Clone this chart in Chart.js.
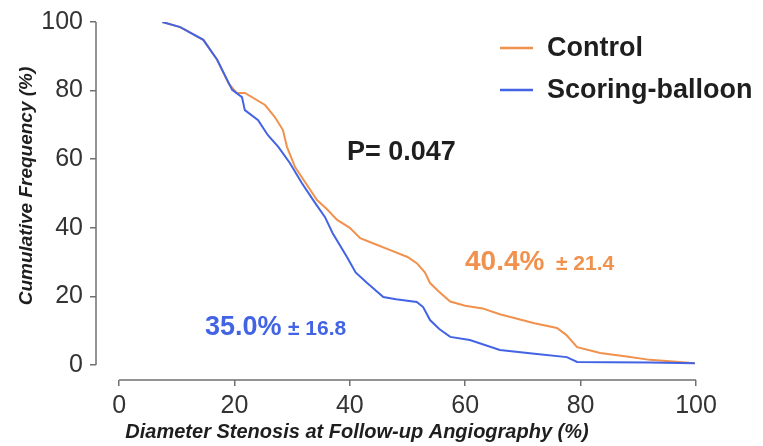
<!DOCTYPE html>
<html>
<head>
<meta charset="utf-8">
<title>Cumulative frequency of diameter stenosis</title>
<script src="https://cdn.jsdelivr.net/npm/chart.js@4.4.1/dist/chart.umd.min.js"></script>
<style>
  html, body { margin: 0; padding: 0; background: #fff; }
  #wrap { width: 763px; height: 446px; position: relative; }
</style>
</head>
<body>
<div id="wrap"><canvas id="cdf-chart"></canvas></div>
<script>
  'use strict';

  // Diameter stenosis (%) and cumulative frequency (%) for each arm.
  const controlStenosis = [7.5, 10.6, 14.6, 17, 19, 20.4, 21.8, 25.3, 27, 28.4, 29.1, 30.5, 32.8, 34.3, 36, 37.8, 40, 41.8, 44, 47, 50, 51.6, 53, 53.9, 55.5, 57.4, 60, 63, 66, 69, 72, 75.9, 77.5, 79.4, 83.4, 88, 92, 96, 99.8];
  const controlFreq = [100, 98.5, 94.8, 89, 82, 79.3, 79.3, 75.8, 72.3, 68.5, 63.6, 57.7, 51.9, 48.1, 45.5, 42.3, 40, 37, 35.5, 33.5, 31.5, 29.7, 27, 23.9, 21.3, 18.5, 17.3, 16.5, 14.8, 13.5, 12.2, 10.8, 8.8, 5.2, 3.5, 2.5, 1.5, 1, 0.5];

  const balloonStenosis = [7.5, 10.6, 14.6, 17, 19.6, 21.3, 21.8, 24.1, 25.8, 27.6, 29.6, 31.7, 34, 35.7, 37, 39.5, 41, 43, 45.8, 48, 51.6, 52.7, 53.9, 55.5, 57.4, 60.8, 66, 72, 77.6, 79.4, 85, 92, 99.8];
  const balloonFreq = [100, 98.5, 94.8, 89, 80.2, 78.1, 74.3, 71.4, 67, 63.6, 58.9, 53, 47.2, 43.1, 38.5, 31.5, 27, 23.9, 19.8, 19.2, 18.4, 16.9, 13.1, 10.5, 8.2, 7.3, 4.4, 3.3, 2.3, 0.9, 0.8, 0.7, 0.5];

  const axisTicks = [0, 20, 40, 60, 80, 100];

  const seriesLabels = ['Control', 'Scoring-balloon'];
  const meanLabels = ['40.4%', '35.0%'];
  const sdLabels = ['\u00b1 21.4', '\u00b1 16.8'];
  const pValueLabel = 'P= 0.047';

  const colors = {
    control: '#F0914E',
    balloon: '#4264E4',
    axis: '#707070',
    tick: '#333333',
    text: '#1e1e1e'
  };

  const FONT = '"Liberation Sans", Arial, Helvetica, sans-serif';

  function toPoints(xs, ys) {
    return xs.map((x, i) => ({ x: x, y: ys[i] }));
  }

  // Axis lines, legend and annotations drawn on top of the plot.
  const decorations = {
    id: 'decorations',
    afterDraw(chart) {
      const ctx = chart.ctx;
      const xs = chart.scales.x;
      const ys = chart.scales.y;
      const area = chart.chartArea;

      ctx.save();

      // Offset axis lines, each spanning 0-100 only.
      ctx.strokeStyle = colors.axis;
      ctx.lineWidth = 1.5;
      ctx.beginPath();
      ctx.moveTo(area.left, ys.getPixelForValue(100));
      ctx.lineTo(area.left, ys.getPixelForValue(0));
      ctx.moveTo(xs.getPixelForValue(0), area.bottom);
      ctx.lineTo(xs.getPixelForValue(100), area.bottom);
      ctx.stroke();

      // Legend.
      const legendRows = [
        { label: seriesLabels[0], color: colors.control, y: 48 },
        { label: seriesLabels[1], color: colors.balloon, y: 90 }
      ];
      ctx.textBaseline = 'middle';
      ctx.textAlign = 'left';
      legendRows.forEach((row) => {
        ctx.strokeStyle = row.color;
        ctx.lineWidth = 2.5;
        ctx.beginPath();
        ctx.moveTo(500, row.y);
        ctx.lineTo(533, row.y);
        ctx.stroke();
        ctx.fillStyle = colors.text;
        ctx.font = 'bold 27px ' + FONT;
        ctx.fillText(row.label, 547, row.y + 1);
      });

      // P value and group means.
      ctx.textBaseline = 'alphabetic';
      ctx.fillStyle = colors.text;
      ctx.font = 'bold 27px ' + FONT;
      ctx.fillText(pValueLabel, 347, 160);

      ctx.fillStyle = colors.control;
      ctx.font = 'bold 28px ' + FONT;
      ctx.fillText(meanLabels[0], 465, 270);
      ctx.font = 'bold 21px ' + FONT;
      ctx.fillText(sdLabels[0], 556, 270);

      ctx.fillStyle = colors.balloon;
      ctx.font = 'bold 27px ' + FONT;
      ctx.fillText(meanLabels[1], 205, 335);
      ctx.font = 'bold 21px ' + FONT;
      ctx.fillText(sdLabels[1], 288, 335);

      // Axis titles.
      ctx.fillStyle = colors.text;
      ctx.font = 'italic bold 20px ' + FONT;
      ctx.textAlign = 'center';
      ctx.fillText('Diameter Stenosis at Follow-up Angiography (%)', 357, 438);

      ctx.font = 'italic bold 19px ' + FONT;
      ctx.translate(32, 186);
      ctx.rotate(-Math.PI / 2);
      ctx.fillText('Cumulative Frequency (%)', 0, 0);

      ctx.restore();
    }
  };

  const fixedTicks = (scale) => {
    scale.ticks = axisTicks.map((v) => ({ value: v }));
  };

  new Chart(document.getElementById('cdf-chart'), {
    type: 'line',
    data: {
      datasets: [
        {
          label: seriesLabels[1],
          data: toPoints(balloonStenosis, balloonFreq),
          borderColor: colors.balloon,
          borderWidth: 2,
          pointRadius: 0,
          tension: 0,
          order: 0
        },
        {
          label: seriesLabels[0],
          data: toPoints(controlStenosis, controlFreq),
          borderColor: colors.control,
          borderWidth: 2,
          pointRadius: 0,
          tension: 0,
          order: 1
        }
      ]
    },
    options: {
      responsive: true,
      maintainAspectRatio: false,
      animation: false,
      layout: {
        padding: { top: 22, right: 67, left: 0, bottom: 0 }
      },
      plugins: {
        legend: { display: false },
        tooltip: { enabled: false }
      },
      scales: {
        x: {
          type: 'linear',
          min: -4,
          max: 100,
          afterBuildTicks: fixedTicks,
          afterFit: (scale) => { scale.height = 66; },
          border: { display: false },
          grid: {
            display: true,
            drawOnChartArea: false,
            drawTicks: true,
            tickLength: 6,
            color: colors.axis,
            lineWidth: 1.5
          },
          ticks: {
            color: colors.tick,
            padding: 5,
            maxRotation: 0,
            font: { family: FONT, size: 25 }
          }
        },
        y: {
          type: 'linear',
          min: -4.37,
          max: 100,
          afterBuildTicks: fixedTicks,
          afterFit: (scale) => { scale.width = 96; },
          border: { display: false },
          grid: {
            display: true,
            drawOnChartArea: false,
            drawTicks: true,
            tickLength: 6,
            color: colors.axis,
            lineWidth: 1.5
          },
          ticks: {
            color: colors.tick,
            padding: 7,
            font: { family: FONT, size: 25 }
          }
        }
      }
    },
    plugins: [decorations]
  });
</script>
</body>
</html>
